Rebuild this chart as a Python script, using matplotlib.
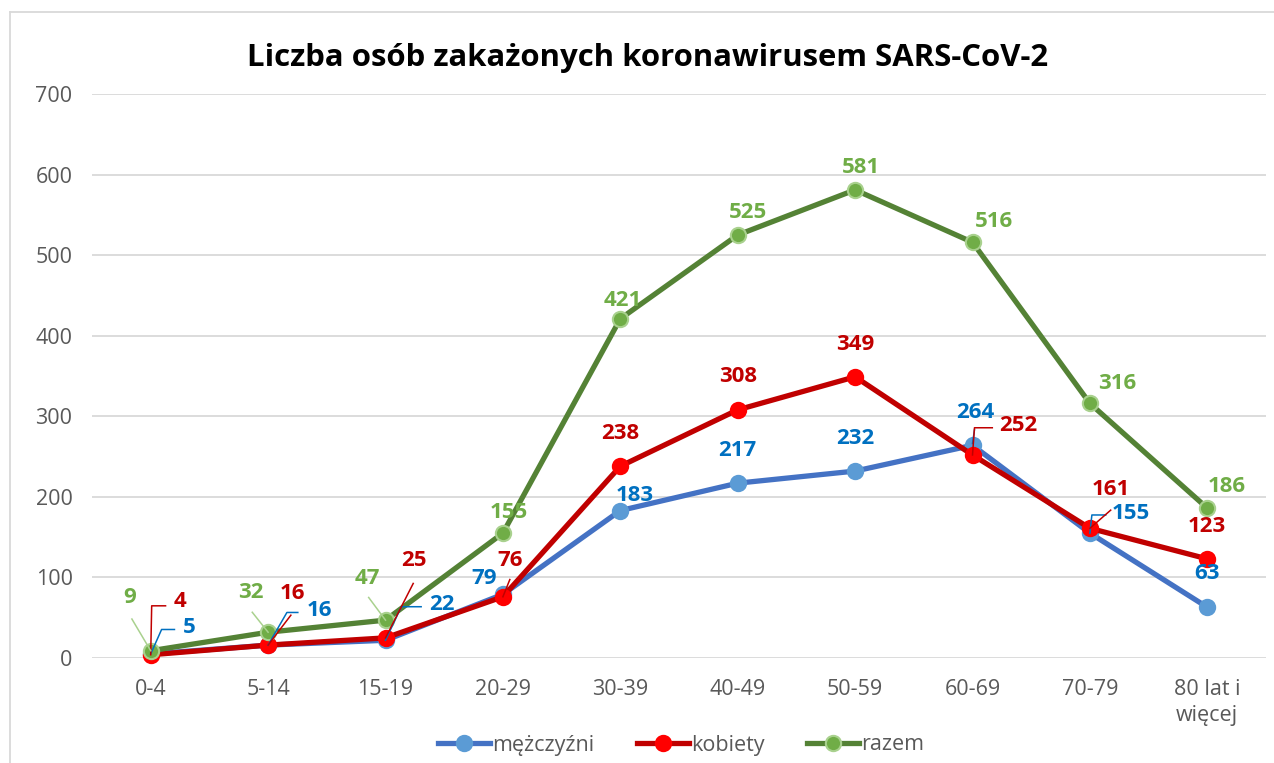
import matplotlib.pyplot as plt
import numpy as np

plt.rcParams['font.family'] = ['Open Sans', 'DejaVu Sans']

# dane
kategorie = ["0-4", "5-14", "15-19", "20-29", "30-39", "40-49", "50-59",
             "60-69", "70-79", "80 lat i\nwięcej"]
mezczyzni = [5, 16, 22, 79, 183, 217, 232, 264, 155, 63]
kobiety = [4, 16, 25, 76, 238, 308, 349, 252, 161, 123]
razem = [9, 32, 47, 155, 421, 525, 581, 516, 316, 186]
nazwy = ["mężczyźni", "kobiety", "razem"]
y_ticks = [0, 100, 200, 300, 400, 500, 600, 700]

# label offsets (pixels, from the point) and leader lines
off_m = [(39, 26), (51, 35), (56, 36), (-19, 16), (14, 15), (0, 33), (0, 33),
         (3, 33), (41, 20), (0, 34)]
off_k = [(29, 53), (24, 52), (28, 77), (7, 36), (0, 33), (0, 33), (0, 32),
         (46, 29), (21, 39), (0, 32)]
off_r = [(-21, 53), (-17, 40), (-18, 42), (6, 21), (2, 18), (10, 22), (6, 22),
         (21, 21), (27, 20), (19, 22)]
lead_m = {0: [(0, 0), (11, 27), (24, 27)], 1: [(0, 0), (19, 36), (30, 36)],
          2: [(0, 0), (16, 37), (36, 37)], 7: [(0, 2), (2, 17)],
          8: [(0, 0), (2, 20), (16, 20)]}
lead_k = {0: [(0, 0), (1, 54), (15, 54)], 1: [(0, 0), (23, 33)],
          2: [(0, 0), (28, 60)], 3: [(0, 0), (7, 19)],
          7: [(0, 0), (2, 30), (20, 30)], 8: [(0, 0), (21, 20)]}
lead_r = {0: [(0, 0), (-19, 35)], 1: [(0, 0), (-16, 22)], 2: [(0, 0), (-17, 25)]}

serie = [
    (mezczyzni, '#4472C4', '#5B9BD5', '#5B9BD5', '#0070C0', off_m, lead_m),
    (kobiety, '#C00000', '#FF0000', '#FF0000', '#C00000', off_k, lead_k),
    (razem, '#548235', '#70AD47', '#A9D18E', '#70AD47', off_r, lead_r),
]
lead_kolory = ['#0070C0', '#C00000', '#A9D18E']

fig = plt.figure(figsize=(12.74, 7.63), dpi=100)
ax = fig.add_axes([92 / 1274, 105 / 763, 1174 / 1274, 564 / 763])

x = np.arange(len(kategorie))
for i, (vals, lc, mfc, mec, tc, offs, leads) in enumerate(serie):
    ax.plot(x, vals, color=lc, lw=3.8, marker='o', ms=11, mfc=mfc, mec=mec,
            mew=1.5, label=nazwy[i], clip_on=False, zorder=3 + i,
            solid_joinstyle='round')

fig.canvas.draw()
for i, (vals, lc, mfc, mec, tc, offs, leads) in enumerate(serie):
    for j, v in enumerate(vals):
        px, py = ax.transData.transform((x[j], v))
        if j in leads:
            pts = [(px + dx, py + dy) for dx, dy in leads[j]]
            dpts = ax.transData.inverted().transform(pts)
            ax.plot(dpts[:, 0], dpts[:, 1], color=lead_kolory[i], lw=1.1,
                    clip_on=False, zorder=7)
        ax.annotate(str(v), (x[j], v), xytext=offs[j], textcoords='offset pixels',
                    ha='center', va='center', fontsize=16, fontweight='bold',
                    color=tc, zorder=8)

ax.set_xlim(-0.5, len(kategorie) - 0.5)
ax.set_ylim(0, 700)
ax.set_yticks(y_ticks)
ax.set_xticks(x)
ax.set_xticklabels(kategorie, linespacing=1.35)
ax.tick_params(colors='#595959', labelsize=15.5, length=0)
ax.tick_params(axis='y', pad=14)
ax.tick_params(axis='x', pad=15)
ax.yaxis.grid(True, color='#D9D9D9', lw=1.3)
ax.set_axisbelow(True)
for s in ax.spines.values():
    s.set_visible(False)

fig.text(648 / 1274, 1 - 58 / 763, "Liczba osób zakażonych koronawirusem SARS-CoV-2",
         ha='center', va='center', fontsize=22.4, fontweight='bold', color='black')

fig.legend(loc='center', bbox_to_anchor=(681 / 1274, 1 - 745 / 763), ncol=3,
           frameon=False, fontsize=15.5, labelcolor='#595959', handlelength=2.4,
           columnspacing=2.0, handletextpad=0.1)

# chart border (only left and top visible)
fig.add_artist(plt.Line2D([10 / 1274, 10 / 1274], [0, 1 - 12 / 763],
                          transform=fig.transFigure, color='#D9D9D9', lw=1.3))
fig.add_artist(plt.Line2D([10 / 1274, 1], [1 - 12 / 763, 1 - 12 / 763],
                          transform=fig.transFigure, color='#D9D9D9', lw=1.3))

plt.savefig('out.png', dpi=100)
plt.close()
